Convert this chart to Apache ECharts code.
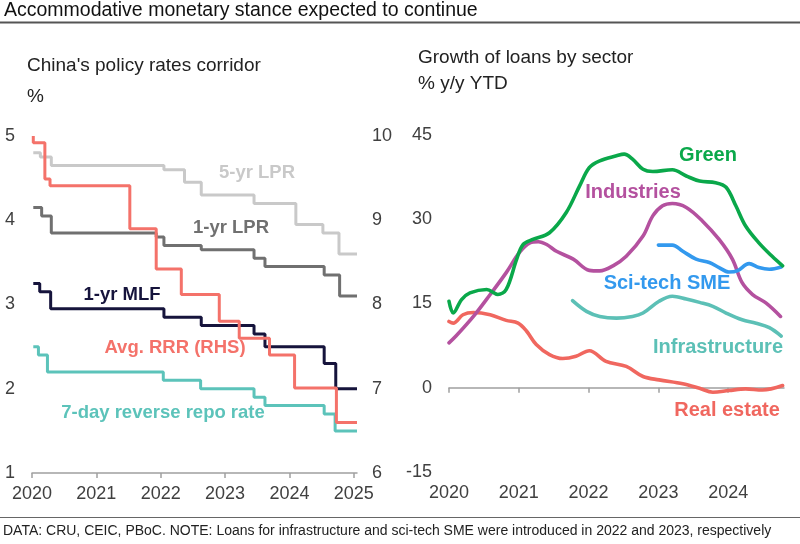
<!DOCTYPE html>
<html>
<head>
<meta charset="utf-8">
<script src="https://cdn.jsdelivr.net/npm/echarts@6/dist/echarts.min.js"></script>
<style>
html,body{margin:0;padding:0;background:#fff;}
#c{width:800px;height:544px;}
</style>
</head>
<body>
<div id="c"></div>
<script>
// ---- Left chart: policy rates (step lines), [year, %] at each change
var lpr5 = [[2020.02,4.80],[2020.13,4.75],[2020.30,4.65],[2022.05,4.60],[2022.37,4.45],[2022.63,4.30],[2023.45,4.20],[2024.10,3.95],[2024.52,3.85],[2024.77,3.60],[2025.05,3.60]];
var lpr1 = [[2020.02,4.15],[2020.15,4.05],[2020.30,3.85],[2021.93,3.80],[2022.05,3.70],[2022.63,3.65],[2023.45,3.55],[2023.62,3.45],[2024.54,3.35],[2024.78,3.10],[2025.05,3.10]];
var mlf = [[2020.02,3.25],[2020.12,3.15],[2020.29,2.95],[2022.05,2.85],[2022.63,2.75],[2023.45,2.65],[2023.62,2.50],[2024.54,2.30],[2024.72,2.00],[2025.05,2.00]];
var repo = [[2020.02,2.50],[2020.10,2.40],[2020.24,2.20],[2022.04,2.10],[2022.62,2.00],[2023.45,1.90],[2023.62,1.80],[2024.54,1.70],[2024.71,1.50],[2025.05,1.50]];
var rrr = [[2020.02,10.00],[2020.02,9.92],[2020.20,9.49],[2020.28,9.41],[2021.52,8.90],[2021.93,8.42],[2022.32,8.12],[2022.91,7.80],[2023.22,7.60],[2023.69,7.40],[2024.08,7.01],[2024.73,6.60],[2025.05,6.60]];
var leftYears = [2020,2021,2022,2023,2024,2025];

// ---- Right chart: loan growth by sector, [year, % y/y YTD]
var green = [[2020.0,15.4],[2020.06,13.3],[2020.18,15.7],[2020.3,16.9],[2020.54,17.5],[2020.7,16.6],[2020.82,17.5],[2020.97,22.9],[2021.06,25.5],[2021.2,26.4],[2021.44,27.6],[2021.68,31.2],[2021.87,35.9],[2022.01,39.2],[2022.16,40.4],[2022.4,41.3],[2022.51,41.6],[2022.63,40.7],[2022.78,38.9],[2022.92,38.5],[2023.2,38.8],[2023.4,37.7],[2023.59,36.8],[2023.82,36.5],[2023.97,35.7],[2024.11,32.4],[2024.25,28.8],[2024.44,25.8],[2024.63,23.4],[2024.78,21.7]];
var industries = [[2020.0,8.0],[2020.1,9.2],[2020.35,12.7],[2020.59,16.6],[2020.82,20.5],[2021.01,24.1],[2021.16,25.8],[2021.28,26.0],[2021.4,25.5],[2021.54,24.3],[2021.78,22.9],[2022.01,20.9],[2022.16,20.8],[2022.35,21.7],[2022.54,23.4],[2022.78,27.0],[2022.92,30.6],[2023.06,32.4],[2023.2,32.8],[2023.4,32.1],[2023.63,29.7],[2023.87,26.4],[2024.06,22.9],[2024.2,18.7],[2024.35,16.6],[2024.54,15.1],[2024.75,12.7]];
var scitech = [[2023.0,25.4],[2023.2,25.4],[2023.35,24.3],[2023.54,22.9],[2023.73,22.3],[2023.87,21.4],[2024.01,20.6],[2024.13,20.8],[2024.3,22.1],[2024.44,21.4],[2024.59,21.1],[2024.76,21.5]];
var infra = [[2021.77,15.5],[2021.97,13.6],[2022.16,12.7],[2022.4,12.4],[2022.63,12.7],[2022.78,13.3],[2023.01,15.4],[2023.2,16.3],[2023.4,15.8],[2023.59,15.2],[2023.78,14.5],[2023.97,13.3],[2024.2,12.1],[2024.4,11.5],[2024.59,10.7],[2024.76,9.2]];
var realEstate = [[2020.0,11.8],[2020.06,11.5],[2020.2,13.0],[2020.35,13.4],[2020.59,13.0],[2020.82,12.0],[2020.99,11.5],[2021.11,10.1],[2021.25,7.7],[2021.44,5.9],[2021.63,5.2],[2021.82,5.6],[2022.01,6.6],[2022.25,4.7],[2022.54,3.8],[2022.78,2.0],[2023.01,1.4],[2023.35,0.7],[2023.59,-0.1],[2023.78,-0.8],[2024.01,-0.5],[2024.25,-0.2],[2024.49,-0.4],[2024.78,0.4]];
var rightYears = [2020,2021,2022,2023,2024];

var FONT = '"Liberation Sans", Arial, sans-serif';
var axisGray = '#a0a0a0';
var labelColor = '#404040';

var chart = echarts.init(document.getElementById('c'), null, {renderer:'canvas'});

function yearFmt(v){ return String(Math.round(v)); }
function stepSeries(name, data, color, yIdx){
  return {name:name, type:'line', step:'end', data:data, xAxisIndex:0, yAxisIndex:yIdx,
    symbol:'none', lineStyle:{color:color, width:3}, itemStyle:{color:color}, animation:false, silent:true};
}
function smoothSeries(name, data, color){
  return {name:name, type:'line', smooth:0.35, data:data, xAxisIndex:1, yAxisIndex:2,
    symbol:'none', lineStyle:{color:color, width:3.6, cap:'round', join:'round'}, itemStyle:{color:color}, animation:false, silent:true};
}
function txt(x, y, s, size, color, weight, align){
  return {type:'text', x:x, y:y, style:{text:s, x:0, y:0, fill:color, font:(weight||'normal')+' '+size+'px '+FONT, textAlign:align||'left', textVerticalAlign:'middle'}};
}

var option = {
  backgroundColor:'#ffffff',
  animation:false,
  textStyle:{fontFamily:FONT},
  grid:[
    {left:32, top:136, width:325, height:337},
    {left:449, top:135, width:335, height:337}
  ],
  xAxis:[
    {type:'value', gridIndex:0, min:2020, max:2025.05,
      axisLine:{show:true, onZero:false, lineStyle:{color:axisGray, width:1.5}},
      axisTick:{show:true, length:5, lineStyle:{color:axisGray, width:1.5}, customValues:leftYears},
      axisLabel:{show:true, customValues:leftYears, formatter:yearFmt, fontSize:18, color:labelColor, margin:12, fontFamily:FONT},
      splitLine:{show:false}},
    {type:'value', gridIndex:1, min:2020, max:2024.8,
      axisLine:{show:true, onZero:true, lineStyle:{color:axisGray, width:1.5}},
      axisTick:{show:true, length:5, lineStyle:{color:axisGray, width:1.5}, customValues:rightYears},
      axisLabel:{show:false},
      splitLine:{show:false}},
    {type:'value', gridIndex:1, min:2020, max:2024.8, position:'bottom',
      axisLine:{show:false, onZero:false}, axisTick:{show:false},
      axisLabel:{show:true, customValues:rightYears, formatter:yearFmt, fontSize:18, color:labelColor, margin:12, fontFamily:FONT},
      splitLine:{show:false}}
  ],
  yAxis:[
    {type:'value', gridIndex:0, min:1, max:5, interval:1, position:'left',
      axisLine:{show:false}, axisTick:{show:false}, splitLine:{show:false},
      axisLabel:{fontSize:18, color:labelColor, margin:17, fontFamily:FONT}},
    {type:'value', gridIndex:0, min:6, max:10, interval:1, position:'right',
      axisLine:{show:false}, axisTick:{show:false}, splitLine:{show:false},
      axisLabel:{fontSize:18, color:labelColor, margin:15, fontFamily:FONT}},
    {type:'value', gridIndex:1, min:-15, max:45, interval:15, position:'left',
      axisLine:{show:false}, axisTick:{show:false}, splitLine:{show:false},
      axisLabel:{fontSize:18, color:labelColor, margin:17, fontFamily:FONT}}
  ],
  series:[
    stepSeries('5-yr LPR', lpr5, '#c9c9c9', 0),
    stepSeries('1-yr LPR', lpr1, '#707070', 0),
    stepSeries('7-day reverse repo rate', repo, '#5cc3ba', 0),
    stepSeries('1-yr MLF', mlf, '#16143c', 0),
    stepSeries('Avg. RRR (RHS)', rrr, '#f4726a', 1),
    smoothSeries('Real estate', realEstate, '#f0675f'),
    smoothSeries('Infrastructure', infra, '#5cc0b6'),
    smoothSeries('Industries', industries, '#b4519f'),
    smoothSeries('Sci-tech SME', scitech, '#3399ee'),
    smoothSeries('Green', green, '#0aa84a')
  ],
  graphic:[
    txt(4, 11, 'Accommodative monetary stance expected to continue', 19.5, '#111', 'normal'),
    {type:'line', shape:{x1:0, y1:22.5, x2:800, y2:22.5}, style:{stroke:'#555', lineWidth:2}},
    txt(27, 66, "China's policy rates corridor", 19, '#222'),
    txt(27, 97, '%', 19, '#222'),
    txt(418, 58, 'Growth of loans by sector', 19, '#222'),
    txt(418, 84, '% y/y YTD', 19, '#222'),
    txt(257, 173, '5-yr LPR', 18.5, '#c9c9c9', 'bold', 'center'),
    txt(231, 228, '1-yr LPR', 18.5, '#707070', 'bold', 'center'),
    txt(122, 295, '1-yr MLF', 18.5, '#16143c', 'bold', 'center'),
    txt(175, 348, 'Avg. RRR (RHS)', 18.5, '#f4726a', 'bold', 'center'),
    txt(163, 413, '7-day reverse repo rate', 18.5, '#5cc3ba', 'bold', 'center'),
    txt(708, 155, 'Green', 20, '#0aa84a', 'bold', 'center'),
    txt(633, 192, 'Industries', 20, '#b4519f', 'bold', 'center'),
    txt(667, 283, 'Sci-tech SME', 20, '#3399ee', 'bold', 'center'),
    txt(718, 347, 'Infrastructure', 20, '#5cc0b6', 'bold', 'center'),
    txt(727, 410, 'Real estate', 20, '#f0675f', 'bold', 'center'),
    {type:'line', shape:{x1:0, y1:517.5, x2:800, y2:517.5}, style:{stroke:'#666', lineWidth:1}},
    txt(3, 531, 'DATA: CRU, CEIC, PBoC. NOTE: Loans for infrastructure and sci-tech SME were introduced in 2022 and 2023, respectively', 14, '#222')
  ]
};
chart.setOption(option);
</script>
</body>
</html>
